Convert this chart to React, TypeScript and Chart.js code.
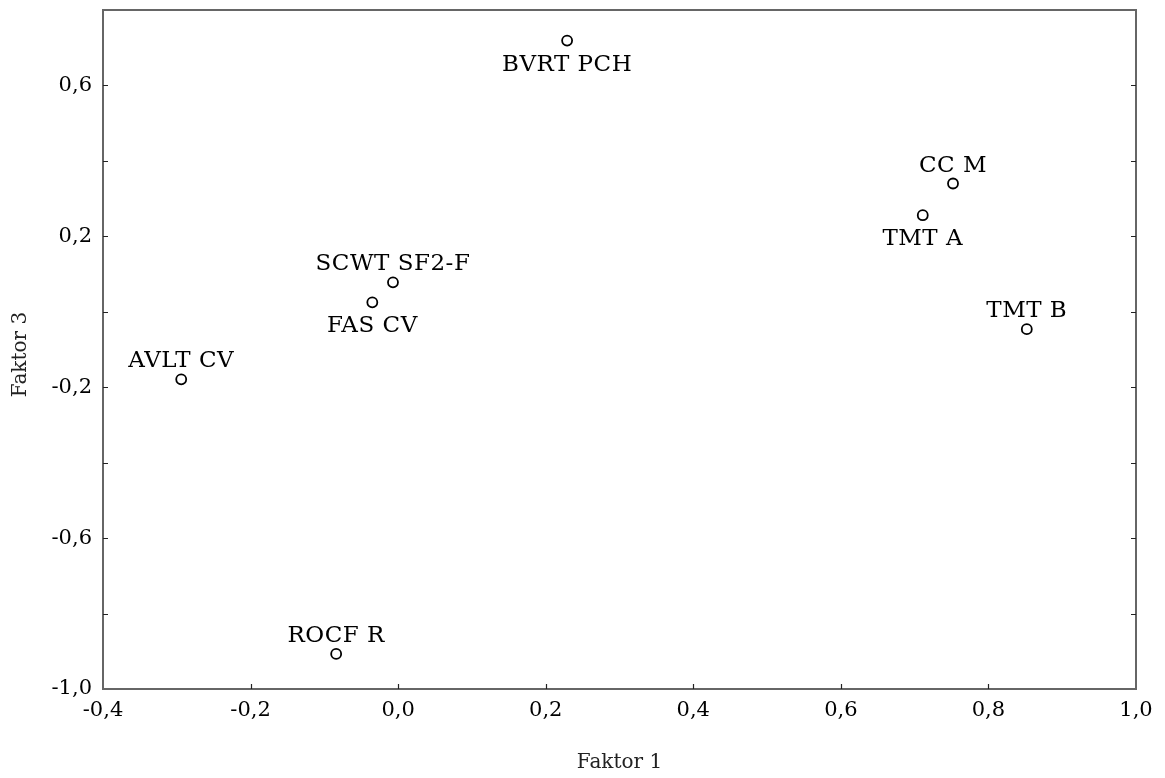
import React, { useEffect, useRef } from "react";
import { Chart, registerables } from "chart.js";

Chart.register(...registerables);

// Factor loadings: Faktor 1 (x) vs Faktor 3 (y)
const variableNames = ["BVRT PCH", "CC M", "TMT A", "TMT B", "SCWT SF2-F", "FAS CV", "AVLT CV", "ROCF R"];
const faktor1 = [0.229, 0.752, 0.711, 0.852, -0.007, -0.035, -0.294, -0.084];
const faktor3 = [0.719, 0.34, 0.256, -0.046, 0.078, 0.025, -0.179, -0.907];
// label placement relative to the marker: 1 = above, -1 = below
const labelSide = [-1, 1, -1, 1, 1, -1, 1, 1];

const xTickLabels = ["-0,4", "-0,2", "0,0", "0,2", "0,4", "0,6", "0,8", "1,0"];
const yTickLabels = ["-1,0", "-0,6", "-0,2", "0,2", "0,6"];

const SERIF = "'DejaVu Serif', serif";

const fmt = (v: number) => {
  const r = Math.round(v * 10) / 10;
  return (Object.is(r, -0) ? 0 : r).toFixed(1).replace(".", ",");
};

const framePlugin = {
  id: "frameAndLabels",
  afterDraw(chart: any) {
    const { ctx, chartArea, scales } = chart;
    const { left, right, top, bottom } = chartArea;
    ctx.save();
    // frame
    ctx.strokeStyle = "#666666";
    ctx.lineWidth = 2;
    ctx.strokeRect(left, top, right - left, bottom - top);

    // inward tick marks
    ctx.strokeStyle = "#222222";
    ctx.lineWidth = 1.2;
    const tl = 5;
    scales.y.ticks.forEach((t: any) => {
      const py = Math.round(scales.y.getPixelForValue(t.value)) + 0.5;
      if (py <= top + 1 || py >= bottom - 1) return;
      ctx.beginPath();
      ctx.moveTo(left, py);
      ctx.lineTo(left + tl, py);
      ctx.moveTo(right, py);
      ctx.lineTo(right - tl, py);
      ctx.stroke();
    });
    scales.x.ticks.forEach((t: any) => {
      const px = Math.round(scales.x.getPixelForValue(t.value)) + 0.5;
      if (px <= left + 1 || px >= right - 1) return;
      ctx.beginPath();
      ctx.moveTo(px, bottom);
      ctx.lineTo(px, bottom - tl);
      ctx.stroke();
    });

    // point labels
    ctx.fillStyle = "#000000";
    ctx.font = `23px ${SERIF}`;
    ctx.textAlign = "center";
    ctx.textBaseline = "alphabetic";
    (ctx as any).letterSpacing = "0.5px";
    const meta = chart.getDatasetMeta(0);
    meta.data.forEach((el: any, i: number) => {
      const off = labelSide[i] > 0 ? -12 : 30;
      ctx.fillText(variableNames[i], el.x, el.y + off);
    });
    (ctx as any).letterSpacing = "0px";

    // axis titles
    ctx.font = `20px ${SERIF}`;
    ctx.fillStyle = "#222222";
    ctx.textBaseline = "middle";
    ctx.fillText("Faktor 1", (left + right) / 2, 763);
    ctx.translate(21, (top + bottom) / 2 + 5);
    ctx.rotate(-Math.PI / 2);
    ctx.fillText("Faktor 3", 0, 0);
    ctx.restore();
  },
};

export default function App() {
  const ref = useRef<HTMLCanvasElement | null>(null);

  useEffect(() => {
    document.body.style.margin = "0";
    const canvas = ref.current;
    if (!canvas) return;
    const chart = new Chart(canvas, {
      type: "scatter",
      data: {
        datasets: [
          {
            data: faktor1.map((x, i) => ({ x, y: faktor3[i] })),
            pointRadius: 5,
            pointBorderWidth: 1.8,
            pointBorderColor: "#000000",
            pointBackgroundColor: "#ffffff",
            pointHoverRadius: 5,
          },
        ],
      },
      options: {
        responsive: false,
        animation: false,
        devicePixelRatio: 1,
        layout: { padding: { top: 10, right: 29, left: 0, bottom: 0 } },
        plugins: { legend: { display: false }, tooltip: { enabled: false } },
        scales: {
          x: {
            type: "linear",
            min: -0.4,
            max: 1.0,
            afterFit: (s: any) => {
              s.height = 89;
              s.paddingLeft = 0;
              s.paddingRight = 0;
            },
            afterBuildTicks: (s: any) => {
              s.ticks = xTickLabels.map((_, i) => ({ value: -0.4 + i * 0.2 }));
            },
            border: { display: false },
            grid: { display: false, drawTicks: false },
            ticks: {
              padding: 9,
              color: "#000000",
              font: { family: SERIF, size: 21 },
              maxRotation: 0,
              callback: (v: any) => {
                const s = fmt(Number(v));
                return xTickLabels.includes(s) ? s : "";
              },
            },
          },
          y: {
            type: "linear",
            min: -1.0,
            max: 0.8,
            afterFit: (s: any) => {
              s.width = 103;
              s.paddingTop = 0;
              s.paddingBottom = 0;
            },
            afterBuildTicks: (s: any) => {
              const arr: any[] = [];
              for (let i = 0; i <= 9; i++) arr.push({ value: -1.0 + i * 0.2 });
              s.ticks = arr;
            },
            border: { display: false },
            grid: { display: false, drawTicks: false },
            ticks: {
              padding: 11,
              color: "#000000",
              font: { family: SERIF, size: 21 },
              callback: (v: any) => {
                const s = fmt(Number(v));
                return yTickLabels.includes(s) ? s : "";
              },
            },
          },
        },
      },
      plugins: [framePlugin],
    });
    return () => chart.destroy();
  }, []);

  return (
    <div style={{ position: "absolute", left: 0, top: 0, width: 1165, height: 778, background: "#ffffff" }}>
      <canvas ref={ref} width={1165} height={778} style={{ display: "block" }} />
    </div>
  );
}
